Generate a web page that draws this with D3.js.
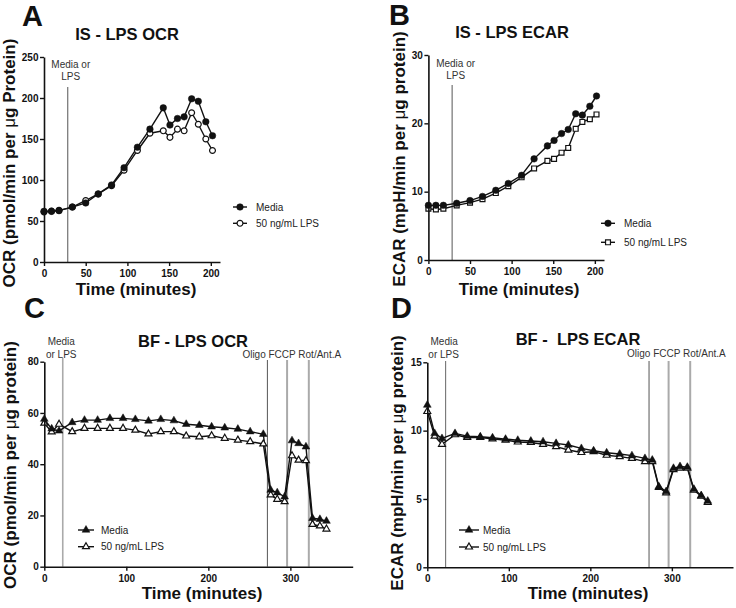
<!DOCTYPE html>
<html><head><meta charset="utf-8">
<script src="https://cdn.jsdelivr.net/npm/d3@7"></script>
<style>body{margin:0;background:#fff}</style>
</head><body><svg id="c" width="736" height="608"></svg>
<script>
// ---- data ----
const isTime = [0, 9, 18, 34, 50, 65, 81, 96, 112, 127, 143, 151, 160, 168, 177, 185, 194, 202];
const isOcrMedia = [61.8, 61.8, 62.6, 67, 72, 83, 94, 115, 140, 162, 188, 167, 175, 177, 199, 196, 171, 154];
const isOcrLps   = [61, 62, 63, 67, 75, 83, 93, 112, 136, 157, 160, 152, 162, 160, 182, 168, 150, 136];
const isEcarMedia = [8.0, 8.0, 8.0, 8.3, 8.7, 9.3, 10.2, 11.2, 12.4, 14.8, 16.7, 17.5, 18.5, 19.1, 21.4, 21.2, 22.5, 24.0];
const isEcarLps   = [7.5, 7.4, 7.5, 8.0, 8.4, 8.9, 9.8, 10.8, 12.1, 13.4, 14.5, 14.8, 15.7, 16.4, 19.2, 20.2, 20.6, 21.3];

const bfTime = [0, 9, 18, 34, 49, 65, 80, 96, 111, 127, 142, 158, 173, 189, 204, 220, 236, 251, 267, 276, 284, 293, 302, 310, 319, 327, 336, 344];
const bfOcrMedia = [57.6, 53.8, 53.0, 56.3, 57.2, 57.2, 57.9, 57.9, 57.5, 56.9, 57.5, 57.0, 55.6, 55.2, 54.6, 54.2, 53.7, 52.7, 51.7, 29.9, 28.9, 27.3, 49.2, 48.1, 46.8, 18.9, 18.5, 17.8];
const bfOcrLps   = [56.0, 52.6, 55.6, 52.7, 54.0, 54.0, 54.0, 54.0, 53.3, 51.8, 52.7, 52.7, 51.0, 50.7, 51.1, 50.1, 49.4, 48.8, 47.9, 28.0, 26.3, 25.4, 43.3, 41.6, 41.4, 16.5, 15.9, 14.7];
const bfEcarMedia = [11.87, 9.8, 9.43, 9.8, 9.6, 9.55, 9.48, 9.38, 9.3, 9.24, 9.19, 9.07, 8.95, 8.7, 8.53, 8.38, 8.29, 8.17, 7.97, 7.85, 5.9, 5.55, 7.25, 7.38, 7.33, 5.72, 5.25, 4.85];
const bfEcarLps   = [11.4, 9.6, 9.0, 9.7, 9.5, 9.5, 9.4, 9.3, 9.17, 9.13, 9.0, 8.83, 8.58, 8.4, 8.46, 8.2, 8.1, 7.97, 7.73, 7.73, 5.85, 5.45, 7.15, 7.25, 7.25, 5.65, 5.2, 4.75];

const seriesNames = ["Media", "50 ng/mL LPS"];
const isXTicks = [0, 50, 100, 150, 200];
const bfXTicks = [0, 100, 200, 300];
const isOcrYTicks = [0, 50, 100, 150, 200, 250];
const isEcarYTicks = [0, 10, 20, 30];
const bfOcrYTicks = [0, 20, 40, 60, 80];
const bfEcarYTicks = [0, 5, 10, 15];
const isInjectTime = 28.5;
const bfInjectTimes = [22.5, 272, 296, 322.5]; // Media/LPS, Oligo, FCCP, Rot/Ant.A

// ---- drawing ----
const svg = d3.select('#c');
const FONT = "'Liberation Sans', Arial, Helvetica, sans-serif";

function markerPath(type, filled) {
  const sizes = {circle: 34, square: 30, triangle: 26};
  const sym = {circle: d3.symbolCircle, square: d3.symbolSquare, triangle: d3.symbolTriangle}[type];
  return d3.symbol(sym, filled ? sizes[type] : sizes[type] * 0.8)();
}

function drawMarker(g, type, filled, cx, cy) {
  g.append('path').attr('d', markerPath(type, filled))
    .attr('transform', `translate(${cx},${cy})`)
    .attr('fill', filled ? '#111' : '#fff')
    .attr('stroke', '#111').attr('stroke-width', filled ? 0.5 : 1.2);
}

function panel(p) {
  const x = d3.scaleLinear().domain(p.xDomain).range(p.xRange);
  const y = d3.scaleLinear().domain(p.yDomain).range(p.yRange);
  const g = svg.append('g');

  g.append('text').text(p.letter).attr('x', p.letterPos[0]).attr('y', p.letterPos[1])
    .attr('font-family', FONT).attr('font-weight', 'bold').attr('font-size', 29).attr('fill', '#111');
  g.append('text').text(p.title).attr('x', p.titlePos[0]).attr('y', p.titlePos[1])
    .attr('text-anchor', 'middle').attr('font-family', FONT).attr('font-weight', 'bold')
    .attr('font-size', 16.5).attr('fill', '#111').style('white-space', 'pre');

  p.injections.forEach(inj => {
    g.append('line').attr('x1', x(inj.t)).attr('x2', x(inj.t))
      .attr('y1', inj.top).attr('y2', y(0))
      .attr('stroke', inj.color).attr('stroke-width', inj.w);
  });
  p.injLabels.forEach(l => {
    g.append('text').text(l.text).attr('x', x(l.t) + l.dx).attr('y', l.y)
      .attr('text-anchor', l.anchor).attr('font-family', FONT).attr('font-size', 10).attr('fill', '#333');
  });

  const line = d3.line().x(d => x(d[0])).y(d => y(d[1]));
  const order = [1, 0];
  order.forEach(si => {
    const s = p.series[si];
    g.append('path').datum(p.time.map((t, i) => [t, s[i]]))
      .attr('d', line).attr('fill', 'none').attr('stroke', '#111').attr('stroke-width', 1.4);
  });
  order.forEach(si => {
    const s = p.series[si];
    p.time.forEach((t, i) => drawMarker(g, p.markers[si], si === 0, x(t), y(s[i])));
  });

  const xa = g.append('g').attr('transform', `translate(0,${y(0)})`)
    .call(d3.axisBottom(x).tickValues(p.xTicks).tickSize(4).tickPadding(4).tickSizeOuter(0));
  const ya = g.append('g').attr('transform', `translate(${x(0)},0)`)
    .call(d3.axisLeft(y).tickValues(p.yTicks).tickSize(4).tickPadding(1.5).tickSizeOuter(0));
  [xa, ya].forEach(a => {
    a.select('.domain').attr('stroke', '#111').attr('stroke-width', 1.6);
    a.selectAll('.tick line').attr('stroke', '#111').attr('stroke-width', 1.4);
    a.selectAll('.tick text').attr('font-family', FONT).attr('font-weight', 'bold')
      .attr('font-size', 10).attr('fill', '#111');
  });

  g.append('text').text('Time (minutes)').attr('x', p.xLabelPos[0]).attr('y', p.xLabelPos[1])
    .attr('text-anchor', 'middle').attr('font-family', FONT).attr('font-weight', 'bold')
    .attr('font-size', 17).attr('fill', '#111');
  g.append('text').attr('transform', `translate(${p.yLabelPos[0]},${p.yLabelPos[1]}) rotate(-90)`)
    .attr('text-anchor', 'middle').attr('font-family', FONT).attr('font-weight', 'bold')
    .attr('font-size', 17).attr('fill', '#111')
    .call(t => {
      t.append('tspan').text(p.yLabel[0]);
      t.append('tspan').text('μ').attr('font-weight', 'normal');
      t.append('tspan').text(p.yLabel[1]);
    });

  seriesNames.forEach((name, i) => {
    const ly = p.legend.y[i];
    const mx = p.legend.x;
    g.append('line').attr('x1', mx - p.legend.half).attr('x2', mx + p.legend.half)
      .attr('y1', ly).attr('y2', ly).attr('stroke', '#111').attr('stroke-width', 1.4);
    drawMarker(g, p.markers[i], i === 0, mx, ly);
    g.append('text').text(name).attr('x', mx + p.legend.textDx).attr('y', ly + 3.6)
      .attr('font-family', FONT).attr('font-size', 10).attr('fill', '#222');
  });
}

panel({
  letter: 'A', letterPos: [22, 26], title: 'IS - LPS OCR', titlePos: [127, 40],
  xDomain: [0, 211], xRange: [44, 220], yDomain: [0, 250], yRange: [262, 57],
  xTicks: isXTicks, yTicks: isOcrYTicks, time: isTime, series: [isOcrMedia, isOcrLps], markers: ['circle', 'circle'],
  injections: [{t: isInjectTime, top: 87, color: '#555', w: 1}],
  injLabels: [{text: 'Media or', t: isInjectTime, dx: 3, y: 68, anchor: 'middle'},
              {text: 'LPS', t: isInjectTime, dx: 3, y: 80, anchor: 'middle'}],
  xLabelPos: [136, 295], yLabelPos: [15, 163], yLabel: ['OCR (pmol/min per ', 'g Protein)'],
  legend: {x: 240, y: [207, 223.3], half: 7, textDx: 16}
});

panel({
  letter: 'B', letterPos: [389, 25], title: 'IS - LPS ECAR', titlePos: [512, 38],
  xDomain: [0, 211], xRange: [428.4, 604], yDomain: [0, 30], yRange: [260, 55],
  xTicks: isXTicks, yTicks: isEcarYTicks, time: isTime, series: [isEcarMedia, isEcarLps], markers: ['circle', 'square'],
  injections: [{t: isInjectTime, top: 85, color: '#555', w: 1}],
  injLabels: [{text: 'Media or', t: isInjectTime, dx: 3.5, y: 67, anchor: 'middle'},
              {text: 'LPS', t: isInjectTime, dx: 3.5, y: 79, anchor: 'middle'}],
  xLabelPos: [519, 295], yLabelPos: [405, 159], yLabel: ['ECAR (mpH/min per ', 'g protein)'],
  legend: {x: 608, y: [223.3, 242.3], half: 7, textDx: 16}
});

panel({
  letter: 'C', letterPos: [24, 318], title: 'BF - LPS OCR', titlePos: [193, 347],
  xDomain: [0, 376], xRange: [44.3, 352.7], yDomain: [0, 80], yRange: [566.7, 361.7],
  xTicks: bfXTicks, yTicks: bfOcrYTicks, time: bfTime, series: [bfOcrMedia, bfOcrLps], markers: ['triangle', 'triangle'],
  injections: [{t: bfInjectTimes[0], top: 358, color: '#aaa', w: 1.6},
               {t: bfInjectTimes[1], top: 360, color: '#555', w: 1},
               {t: bfInjectTimes[2], top: 360, color: '#aaa', w: 2},
               {t: bfInjectTimes[3], top: 360, color: '#aaa', w: 2}],
  injLabels: [{text: 'Media', t: bfInjectTimes[0], dx: -1.5, y: 345, anchor: 'middle'},
              {text: 'or LPS', t: bfInjectTimes[0], dx: -1.5, y: 358, anchor: 'middle'},
              {text: 'Oligo FCCP Rot/Ant.A', t: bfInjectTimes[1], dx: -25, y: 358, anchor: 'start'}],
  xLabelPos: [202, 599], yLabelPos: [16, 465], yLabel: ['OCR (pmol/min per ', 'g protein)'],
  legend: {x: 86, y: [530, 546.7], half: 8, textDx: 15}
});

panel({
  letter: 'D', letterPos: [391, 318], title: 'BF -  LPS ECAR', titlePos: [578, 345],
  xDomain: [0, 375], xRange: [427.3, 733], yDomain: [0, 15], yRange: [567.3, 362.3],
  xTicks: bfXTicks, yTicks: bfEcarYTicks, time: bfTime, series: [bfEcarMedia, bfEcarLps], markers: ['triangle', 'triangle'],
  injections: [{t: bfInjectTimes[0], top: 361, color: '#666', w: 1},
               {t: bfInjectTimes[1], top: 361, color: '#555', w: 1},
               {t: bfInjectTimes[2], top: 361, color: '#aaa', w: 2},
               {t: bfInjectTimes[3], top: 361, color: '#aaa', w: 2}],
  injLabels: [{text: 'Media', t: bfInjectTimes[0], dx: -1.5, y: 345, anchor: 'middle'},
              {text: 'or LPS', t: bfInjectTimes[0], dx: -2, y: 358, anchor: 'middle'},
              {text: 'Oligo FCCP Rot/Ant.A', t: bfInjectTimes[1], dx: -22, y: 357, anchor: 'start'}],
  xLabelPos: [588, 599], yLabelPos: [403, 463], yLabel: ['ECAR (mpH/min per ', 'g protein)'],
  legend: {x: 469, y: [530, 547], half: 10, textDx: 14}
});
</script>
</body></html>
